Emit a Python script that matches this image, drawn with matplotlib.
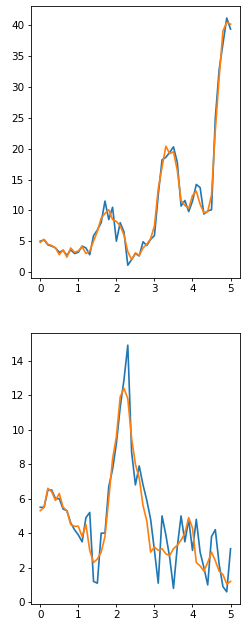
import numpy as np
from matplotlib import pyplot as plt

# x positions 0.0 .. 5.0 in steps of 0.1
x = [round(0.1 * i, 1) for i in range(51)]

# top panel: raw (blue) and smoothed (orange)
top_raw = [5.0, 5.2, 4.4, 4.2, 3.9, 3.2, 3.5, 2.7, 3.6, 3.0,
           3.2, 4.2, 3.9, 2.8, 5.9, 6.8, 8.0, 11.5, 8.5, 10.5,
           5.0, 8.0, 6.5, 1.1, 2.0, 3.0, 2.6, 4.9, 4.3, 5.3,
           5.9, 12.5, 18.2, 18.6, 19.4, 20.3, 17.8, 10.7, 11.6, 9.8,
           11.5, 14.2, 13.7, 9.4, 9.9, 10.1, 25.0, 32.8, 37.0, 41.2,
           39.4]
top_smooth = [4.8, 5.3, 4.5, 4.3, 3.9, 2.8, 3.6, 2.4, 3.9, 3.2,
              3.4, 4.1, 3.0, 3.4, 5.0, 6.6, 8.7, 9.5, 10.1, 8.5,
              8.2, 7.5, 6.0, 3.3, 2.0, 3.1, 2.7, 3.9, 4.5, 5.4,
              7.5, 13.5, 17.0, 20.4, 19.2, 19.5, 16.5, 11.6, 10.8, 10.3,
              12.4, 13.1, 11.0, 9.6, 9.8, 12.5, 23.0, 31.5, 39.1, 40.5,
              40.2]

# bottom panel: raw (blue) and smoothed (orange)
bot_raw = [5.5, 5.5, 6.5, 6.5, 6.0, 6.0, 5.4, 5.3, 4.6, 4.2,
           3.9, 3.5, 4.9, 5.2, 1.2, 1.1, 4.0, 4.0, 6.7, 7.7,
           9.2, 11.3, 12.9, 14.9, 8.7, 6.8, 7.9, 6.8, 5.9, 4.8,
           3.0, 1.1, 5.0, 3.9, 2.6, 0.8, 3.2, 5.0, 3.5, 4.8,
           3.0, 4.8, 2.9, 2.0, 1.0, 3.8, 4.2, 2.2, 0.9, 0.6,
           3.1]
bot_smooth = [5.3, 5.5, 6.6, 6.4, 5.9, 6.3, 5.5, 5.3, 4.5, 4.4,
              4.4, 3.8, 4.5, 3.0, 2.3, 2.5, 2.9, 3.8, 6.0, 8.3,
              9.6, 11.9, 12.4, 11.8, 9.5, 8.0, 7.2, 5.6, 4.7, 2.9,
              3.2, 3.0, 3.1, 2.8, 2.7, 3.1, 3.3, 3.6, 4.0, 4.9,
              4.3, 2.3, 2.1, 1.8, 2.3, 2.9, 2.4, 1.8, 1.6, 1.05,
              1.2]

plt.rcParams['font.size'] = 7.5

fig = plt.figure(figsize=(2.48, 6.28), dpi=100)
ax1 = fig.add_axes([0.124, 0.558, 0.844, 0.433])
ax2 = fig.add_axes([0.124, 0.038, 0.844, 0.432])

ax1.plot(x, top_raw, color='tab:blue', lw=1.2)
ax1.plot(x, top_smooth, color='tab:orange', lw=1.2)
ax1.set_xticks([0, 1, 2, 3, 4, 5])

ax2.plot(x, bot_raw, color='tab:blue', lw=1.2)
ax2.plot(x, bot_smooth, color='tab:orange', lw=1.2)
ax2.set_xticks([0, 1, 2, 3, 4, 5])

for ax in (ax1, ax2):
    ax.tick_params(length=2.5, width=0.6, pad=2)
    for s in ax.spines.values():
        s.set_linewidth(0.6)

fig.savefig('out.png', dpi=100)
